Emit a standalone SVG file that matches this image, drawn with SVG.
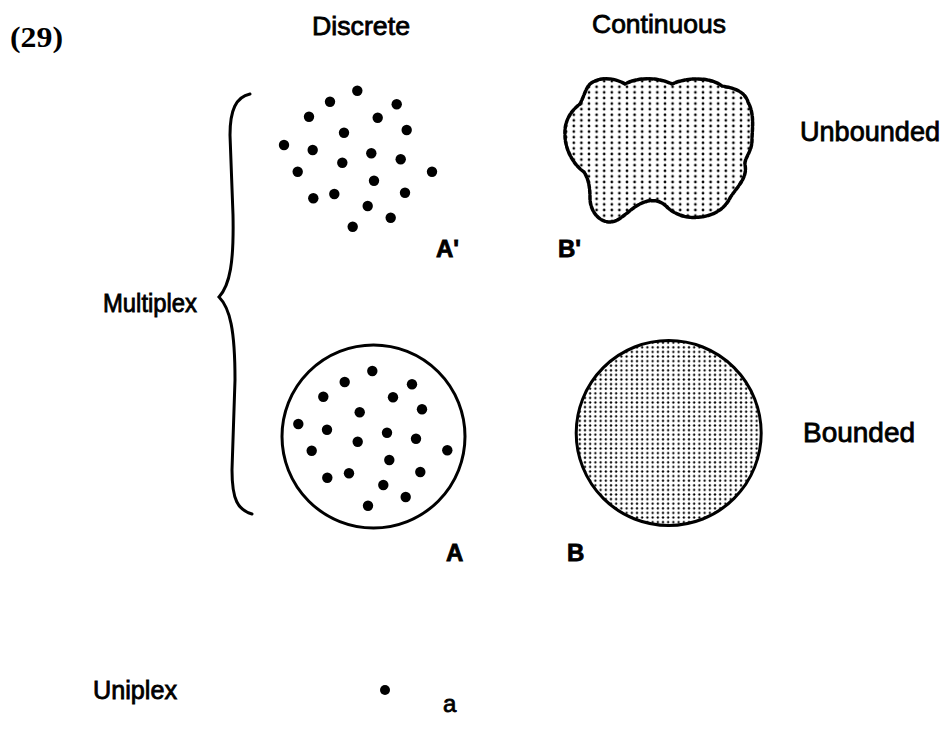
<svg xmlns="http://www.w3.org/2000/svg" width="947" height="742" viewBox="0 0 947 742">
<defs>
<style>
.t{font-family:"Liberation Sans",Arial,sans-serif;fill:#000;stroke:#000;stroke-width:0.8}
.s{font-family:"Liberation Serif","Times New Roman",serif;fill:#000;font-weight:bold}
.d{fill:#000}
.ol{fill:none;stroke:#000;stroke-width:3}
</style>
<pattern id="pb1" width="7.6" height="5.6" patternUnits="userSpaceOnUse">
<circle cx="3.8" cy="2.8" r="1.35" fill="#000"/>
</pattern>
<pattern id="pb2" width="5.2" height="4.6" patternUnits="userSpaceOnUse">
<circle cx="2.6" cy="2.3" r="1.15" fill="#000"/>
</pattern>
</defs>
<rect width="947" height="742" fill="#fff"/>

<text class="s" x="10" y="47" font-size="29" textLength="53" lengthAdjust="spacingAndGlyphs">(29)</text>
<text class="t" x="312" y="35" font-size="26" textLength="98" lengthAdjust="spacingAndGlyphs">Discrete</text>
<text class="t" x="592" y="33" font-size="26" textLength="134" lengthAdjust="spacingAndGlyphs">Continuous</text>
<text class="t" x="800" y="141" font-size="27" textLength="140" lengthAdjust="spacingAndGlyphs">Unbounded</text>
<text class="t" x="803" y="442" font-size="27" textLength="112" lengthAdjust="spacingAndGlyphs">Bounded</text>
<text class="t" x="103" y="312" font-size="25" textLength="94" lengthAdjust="spacingAndGlyphs">Multiplex</text>
<text class="t" x="93" y="699" font-size="25" textLength="84" lengthAdjust="spacingAndGlyphs">Uniplex</text>

<g id="brace">
<path class="ol" stroke-width="3.5" stroke-linecap="round" d="M250,94 C236,97 230,110 230,135 L233,215 C234,262 230,285 219,297 C230,308 235,330 235,380 L232,470 C232,500 238,510 252,514"/>
</g>

<g id="Aprime">
<g class="d">
<circle cx="357.3" cy="90.7" r="5.2"/>
<circle cx="330" cy="101.7" r="5.2"/>
<circle cx="396.7" cy="104.3" r="5.2"/>
<circle cx="309" cy="116.7" r="5.2"/>
<circle cx="377.7" cy="117.7" r="5.2"/>
<circle cx="406.7" cy="130" r="5.2"/>
<circle cx="344" cy="132.7" r="5.2"/>
<circle cx="284" cy="145" r="5.2"/>
<circle cx="312.7" cy="150" r="5.2"/>
<circle cx="371.3" cy="153.3" r="5.2"/>
<circle cx="400.7" cy="159.3" r="5.2"/>
<circle cx="342.3" cy="162.7" r="5.2"/>
<circle cx="297.7" cy="171.7" r="5.2"/>
<circle cx="432" cy="171.7" r="5.2"/>
<circle cx="374" cy="180.7" r="5.2"/>
<circle cx="313.3" cy="198.3" r="5.2"/>
<circle cx="334.3" cy="194" r="5.2"/>
<circle cx="405" cy="192.7" r="5.2"/>
<circle cx="367.7" cy="206" r="5.2"/>
<circle cx="390.7" cy="217.7" r="5.2"/>
<circle cx="352.7" cy="226.7" r="5.2"/>
</g>
<text class="t" x="436" y="257" font-size="24" font-weight="bold" stroke-width="0">A'</text>
</g>

<g id="Bprime">
<path fill="url(#pb1)" stroke="#000" stroke-width="3.5" stroke-dasharray="4 1.6" stroke-linecap="round" d="M590,84 C600,76 615,78 625,84 C640,76 660,78 672,84 C690,76 712,78 722,86 C735,88 745,92 748,102 C755,115 752,130 752,140 C752,152 744,158 745,165 C748,178 736,188 730,198 C724,210 712,216 700,217 C688,219 676,215 668,208 C660,199 650,199 640,204 C628,210 620,222 610,222 C598,222 590,210 590,198 C590,186 588,178 584,172 C574,165 565,150 565,135 C564,120 572,110 580,104 C584,96 586,88 590,84 Z"/>
<text class="t" x="558" y="257" font-size="24" font-weight="bold" stroke-width="0">B'</text>
</g>

<g id="A">
<circle class="ol" cx="373.5" cy="436.5" r="91.5"/>
<g class="d">
<circle cx="372.3" cy="371" r="5.2"/>
<circle cx="344.7" cy="382" r="5.2"/>
<circle cx="412" cy="384.3" r="5.2"/>
<circle cx="323.3" cy="396.7" r="5.2"/>
<circle cx="393" cy="397.3" r="5.2"/>
<circle cx="422" cy="409.3" r="5.2"/>
<circle cx="359.7" cy="412.3" r="5.2"/>
<circle cx="298.3" cy="424" r="5.2"/>
<circle cx="327" cy="429.7" r="5.2"/>
<circle cx="387" cy="432.7" r="5.2"/>
<circle cx="416" cy="438.7" r="5.2"/>
<circle cx="357.7" cy="441.7" r="5.2"/>
<circle cx="311.7" cy="450.7" r="5.2"/>
<circle cx="447.3" cy="450.3" r="5.2"/>
<circle cx="389.3" cy="460" r="5.2"/>
<circle cx="327.3" cy="477.7" r="5.2"/>
<circle cx="349" cy="473.3" r="5.2"/>
<circle cx="420.3" cy="472" r="5.2"/>
<circle cx="383.3" cy="485" r="5.2"/>
<circle cx="405.7" cy="497" r="5.2"/>
<circle cx="368" cy="505.7" r="5.2"/>
</g>
<text class="t" x="446" y="561" font-size="24" font-weight="bold" stroke-width="0">A</text>
</g>

<g id="B">
<circle cx="668.7" cy="433" r="92.5" fill="url(#pb2)" stroke="#000" stroke-width="3"/>
<text class="t" x="567" y="561" font-size="24" font-weight="bold" stroke-width="0">B</text>
</g>

<g id="a">
<circle class="d" cx="385" cy="690" r="5"/>
<text class="t" x="443" y="712" font-size="24">a</text>
</g>
</svg>
